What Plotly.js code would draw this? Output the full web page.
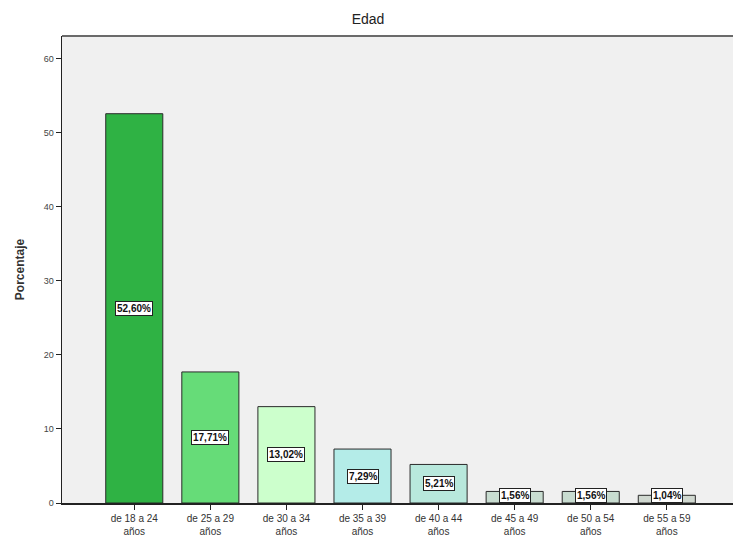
<!DOCTYPE html>
<html>
<head>
<meta charset="utf-8">
<script src="https://cdn.plot.ly/plotly-3.0.1.min.js"></script>
<style>html,body{margin:0;padding:0;background:#fff;}#chart{width:736px;height:535px;}</style>
</head>
<body>
<div id="chart"></div>
<script>
var categories = ["de 18 a 24<br>años", "de 25 a 29<br>años", "de 30 a 34<br>años", "de 35 a 39<br>años", "de 40 a 44<br>años", "de 45 a 49<br>años", "de 50 a 54<br>años", "de 55 a 59<br>años"];
var percentages = [52.60, 17.71, 13.02, 7.29, 5.21, 1.56, 1.56, 1.04];
var valueLabels = ["52,60%", "17,71%", "13,02%", "7,29%", "5,21%", "1,56%", "1,56%", "1,04%"];
var barColors = ["#2fb244", "#66dc78", "#ccffcc", "#b4ece8", "#b8e8dc", "#c8dcd0", "#c8dcd0", "#d0d8d0"];
var yTicks = [0, 10, 20, 30, 40, 50, 60];

var trace = {
  type: "bar",
  x: categories,
  y: percentages,
  width: 0.75,
  marker: {color: barColors, line: {color: "#2a2a2a", width: 1}},
  hoverinfo: "none"
};

var annotations = categories.map(function (c, i) {
  return {
    x: c, y: Math.max(percentages[i] / 2, 1.0),
    xref: "x", yref: "y",
    text: "<b>" + valueLabels[i] + "</b>",
    showarrow: false,
    bgcolor: "#ffffff",
    bordercolor: "#222222",
    borderwidth: 1,
    borderpad: 1,
    font: {family: "Liberation Sans, Arial, sans-serif", size: 10, color: "#111"}
  };
});

var layout = {
  width: 736, height: 535,
  margin: {l: 62, r: 3, t: 36, b: 32},
  paper_bgcolor: "#ffffff",
  plot_bgcolor: "#f0f0f0",
  font: {family: "Liberation Sans, Arial, sans-serif", color: "#222"},
  title: {text: "Edad", x: 0.5, xanchor: "center", y: 0.965, yanchor: "middle",
          font: {size: 14, color: "#222", family: "Liberation Sans, Arial, sans-serif"}},
  showlegend: false,
  bargap: 0.25,
  xaxis: {
    range: [-0.95, 7.87],
    showline: true, linecolor: "#222", linewidth: 1.5,
    ticks: "outside", ticklen: 5, tickcolor: "#222",
    tickfont: {size: 10, color: "#333"},
    showgrid: false, zeroline: false
  },
  yaxis: {
    title: {text: "<b>Porcentaje</b>", font: {size: 12, color: "#333"}, standoff: 16},
    range: [0, 63.1],
    tickvals: yTicks,
    ticktext: yTicks.map(String),
    showline: true, linecolor: "#222", linewidth: 1.5,
    ticks: "outside", ticklen: 5, tickcolor: "#222",
    tickfont: {size: 9, color: "#444"},
    showgrid: false, zeroline: false
  },
  shapes: [{
    type: "line", xref: "paper", yref: "paper",
    x0: 0, x1: 1, y0: 1, y1: 1,
    line: {color: "#6a6a6a", width: 2}
  }],
  annotations: annotations
};

Plotly.newPlot("chart", [trace], layout, {displayModeBar: false, staticPlot: true});
</script>
</body>
</html>
